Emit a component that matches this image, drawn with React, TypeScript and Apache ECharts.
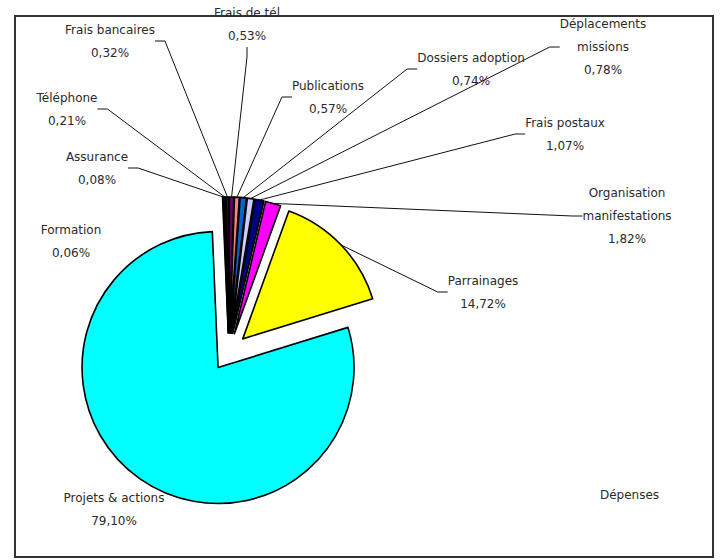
import React, { useEffect, useRef } from "react";
import * as echarts from "echarts";

const categories = [
  "Frais de tél",
  "Publications",
  "Dossiers adoption",
  "Déplacements\nmissions",
  "Frais postaux",
  "Organisation\nmanifestations",
  "Parrainages",
  "Projets & actions",
  "Formation",
  "Assurance",
  "Téléphone",
  "Frais bancaires",
];
const values = [0.53, 0.57, 0.74, 0.78, 1.07, 1.82, 14.72, 79.1, 0.06, 0.08, 0.21, 0.32];
const colors = [
  "#660066", "#FF8080", "#0066CC", "#CCCCFF", "#000080", "#FF00FF",
  "#FFFF00", "#00FFFF", "#800080", "#800000", "#008080", "#0000FF",
];
const seriesName = "Dépenses";

// label block centres (layout only)
const labelPos: [number, number][] = [
  [247, 24], [328, 97], [471, 69], [603, 47], [565, 134], [627, 216],
  [483, 292], [114, 509], [71, 241], [97, 168], [67, 109], [110, 41],
];
const noLine = [7, 8];
const CX = 229;
const CY = 352;
const EXPLODE = 19;

export default function App() {
  const ref = useRef<HTMLDivElement>(null);
  useEffect(() => {
    if (!ref.current) return;
    const chart = echarts.init(ref.current, null, { renderer: "svg" });
    const fmt = (v: number) => v.toFixed(2).replace(".", ",") + "%";
    const total = values.reduce((a, b) => a + b, 0);
    let cum = 0;
    const series = values.map((v, i) => {
      const mid = ((cum + v / 2) / total) * Math.PI * 2;
      cum += v;
      const dx = EXPLODE * Math.sin(mid);
      const dy = -EXPLODE * Math.cos(mid);
      return {
        type: "pie",
        name: seriesName,
        center: [CX + dx, CY + dy],
        radius: 136,
        startAngle: 90,
        clockwise: true,
        avoidLabelOverlap: false,
        silent: true,
        emphasis: { disabled: true },
        label: {
          show: false,
          position: "outside",
          fontFamily: "DejaVu Sans",
          fontSize: 12,
          lineHeight: 23,
          color: "#2a2a2a",
          align: "center",
          formatter: (p: any) => p.name + "\n" + fmt(p.value),
        },
        labelLine: {
          show: false,
          length: 10,
          length2: 10,
          lineStyle: { color: "#111", width: 1 },
        },
        labelLayout: (params: any) => {
          if (params.dataIndex !== i) return {};
          const pos = labelPos[i];
          return { x: pos[0], y: pos[1], align: "center", verticalAlign: "middle" };
        },
        data: categories.map((c, j) => ({
          name: c,
          value: values[j],
          itemStyle:
            j === i
              ? { color: colors[j], borderColor: "#000", borderWidth: 1.6 }
              : { color: "rgba(0,0,0,0)", borderWidth: 0 },
          label: { show: j === i },
          labelLine: { show: j === i && noLine.indexOf(j) < 0 },
        })),
      };
    });
    chart.setOption({
      animation: false,
      backgroundColor: "#ffffff",
      graphic: [
        {
          type: "rect",
          shape: { x: 15, y: 16, width: 698, height: 541 },
          style: { fill: "none", stroke: "#333", lineWidth: 2 },
          z: 0,
        },
        {
          type: "text",
          left: 600,
          top: 489,
          style: { text: seriesName, font: "12px 'DejaVu Sans'", fill: "#2a2a2a" },
        },
      ],
      series,
    });
    return () => chart.dispose();
  }, []);
  return (
    <div
      ref={ref}
      style={{ position: "absolute", left: 0, top: 0, width: 720, height: 560 }}
    />
  );
}
